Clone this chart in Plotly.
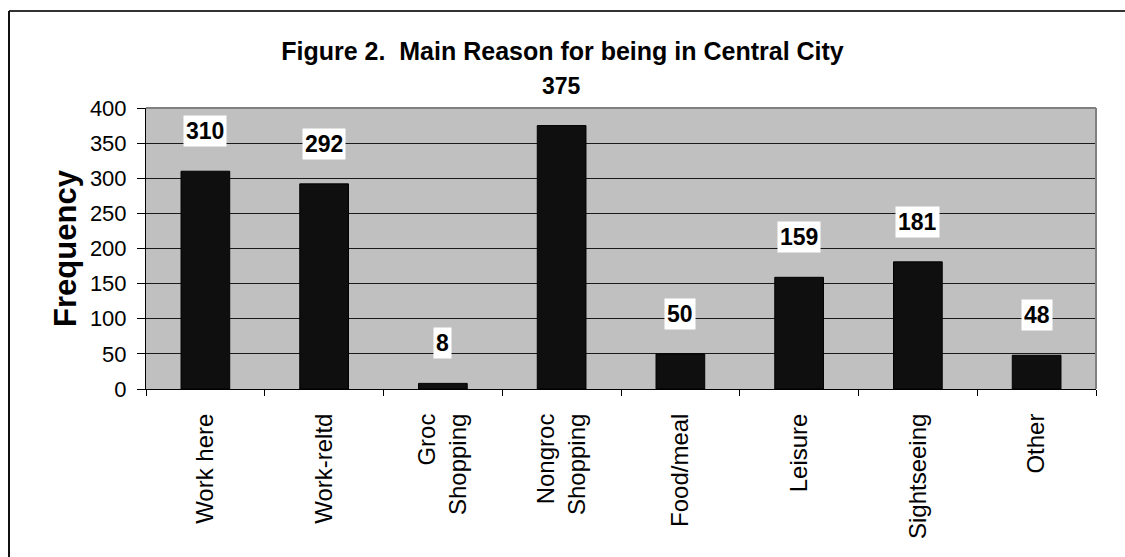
import plotly.graph_objects as go

categories = ["Work here", "Work-reltd", "Groc<br>Shopping", "Nongroc<br>Shopping",
              "Food/meal", "Leisure", "Sightseeing", "Other"]
frequency = [310, 292, 8, 375, 50, 159, 181, 48]
y_ticks = [0, 50, 100, 150, 200, 250, 300, 350, 400]

FONT = "Liberation Sans, Arial, sans-serif"

W, H = 1125, 557
L, R, T, B = 146, 29, 108, 168
pw, ph = W - L - R, H - T - B


def px_x(p):
    return (p - L) / pw


def px_y(p):
    return (H - B - p) / ph


fig = go.Figure()
fig.add_trace(go.Bar(
    x=categories, y=frequency,
    marker=dict(color="#0f0f0f", line=dict(color="#000000", width=1)),
    width=0.41, hoverinfo="x+y",
))

for c, v in zip(categories, frequency):
    fig.add_annotation(
        x=c, y=v, yshift=40, text=f"<b>{v}</b>", showarrow=False,
        bgcolor="white", borderpad=2,
        font=dict(family=FONT, size=23, color="black"),
        xanchor="center", yanchor="middle",
    )

shapes = [
    # outer chart border (top and left visible)
    dict(type="line", xref="paper", yref="paper", x0=px_x(9), x1=px_x(1130),
         y0=px_y(11), y1=px_y(11), line=dict(color="#333333", width=2)),
    dict(type="line", xref="paper", yref="paper", x0=px_x(9), x1=px_x(9),
         y0=px_y(11), y1=px_y(570), line=dict(color="#111111", width=2)),
    # plot area frame top and right (gray)
    dict(type="line", xref="paper", yref="paper", x0=0, x1=1, y0=1, y1=1,
         line=dict(color="#808080", width=2)),
    dict(type="line", xref="paper", yref="paper", x0=1, x1=1, y0=0, y1=1,
         line=dict(color="#808080", width=2)),
]

fig.update_layout(
    width=W, height=H,
    margin=dict(l=L, r=R, t=T, b=B, autoexpand=False),
    paper_bgcolor="white", plot_bgcolor="#c0c0c0",
    showlegend=False,
    shapes=shapes,
    title=dict(text="<b>Figure 2.  Main Reason for being in Central City</b>",
               x=0.5, xref="container", xanchor="center",
               y=1 - 51 / H, yanchor="middle",
               font=dict(family=FONT, size=25, color="black")),
    font=dict(family=FONT, color="black"),
    bargap=0.59,
)

fig.update_yaxes(
    range=[0, 400], tickvals=y_ticks, ticktext=[str(t) for t in y_ticks],
    showgrid=True, gridcolor="#1a1a1a", gridwidth=1,
    showline=True, linecolor="black", linewidth=1,
    ticks="outside", ticklen=8, tickcolor="black",
    tickfont=dict(family=FONT, size=22, color="black"),
    ticklabelstandoff=6,
    zeroline=False,
    title=dict(text="<b>Frequency</b>", standoff=4,
               font=dict(family=FONT, size=31, color="black")),
)
fig.update_xaxes(
    showline=True, linecolor="black", linewidth=1,
    ticks="outside", ticklen=6, tickcolor="black", tickson="boundaries",
    tickangle=-90,
    tickfont=dict(family=FONT, size=24, color="black"),
    ticklabelstandoff=14,
    showgrid=False,
)

fig.write_html("out.html")
